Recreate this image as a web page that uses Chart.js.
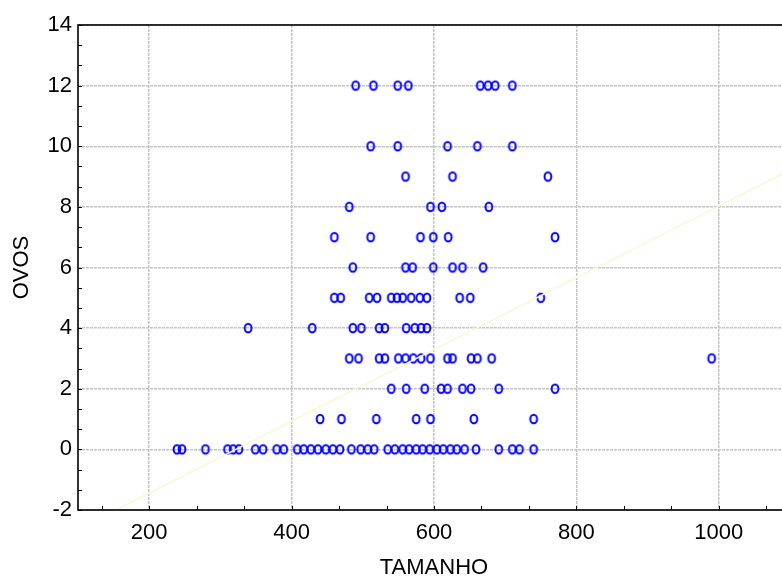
<!DOCTYPE html>
<html><head><meta charset="utf-8">
<script src="https://cdn.jsdelivr.net/npm/chart.js@4/dist/chart.umd.min.js"></script>
<style>html,body{margin:0;padding:0;overflow:hidden;background:#fff}canvas{display:block}</style>
</head><body>
<canvas id="c" width="800" height="581"></canvas>
<script>
// TAMANHO values for each OVOS count
const tamanhoOvos0  = [239, 246, 279, 310, 318, 326, 349, 360, 379, 389, 408, 417, 427, 437, 448, 458, 468, 484, 497, 507, 516, 535, 545, 556, 565, 575, 584, 594, 604, 613, 623, 632, 643, 659, 691, 710, 720, 740];
const tamanhoOvos1  = [440, 470, 519, 575, 595, 656, 740];
const tamanhoOvos2  = [540, 561, 587, 610, 619, 640, 652, 691, 770];
const tamanhoOvos3  = [481, 494, 523, 531, 550, 560, 571, 582, 595, 619, 626, 652, 661, 681, 990];
const tamanhoOvos4  = [339, 429, 486, 498, 523, 531, 561, 573, 582, 590];
const tamanhoOvos5  = [460, 469, 509, 520, 540, 548, 556, 568, 580, 590, 636, 651, 750];
const tamanhoOvos6  = [486, 560, 570, 599, 626, 640, 669];
const tamanhoOvos7  = [460, 511, 581, 599, 620, 770];
const tamanhoOvos8  = [481, 595, 611, 677];
const tamanhoOvos9  = [560, 626, 760];
const tamanhoOvos10 = [511, 549, 619, 661, 710];
const tamanhoOvos12 = [490, 515, 549, 564, 665, 676, 686, 710];

const ovosLevels = [0, 1, 2, 3, 4, 5, 6, 7, 8, 9, 10, 12];
const tamanhoRows = [tamanhoOvos0, tamanhoOvos1, tamanhoOvos2, tamanhoOvos3, tamanhoOvos4, tamanhoOvos5,
                     tamanhoOvos6, tamanhoOvos7, tamanhoOvos8, tamanhoOvos9, tamanhoOvos10, tamanhoOvos12];

// fitted line
const fitIntercept = -3.81;
const fitSlope = 0.01184;

const xTicks = [200, 400, 600, 800, 1000];
const yTicks = [-2, 0, 2, 4, 6, 8, 10, 12, 14];
const xRange = [100, 1100];
const yRange = [-2, 14];

const points = [];
ovosLevels.forEach((o, i) => tamanhoRows[i].forEach(t => points.push({x: t, y: o})));

const fitLine = xRange.map(x => ({x: x, y: fitIntercept + fitSlope * x}));

// ellipse marker
function makeMarker() {
  const c = document.createElement('canvas');
  c.width = 12; c.height = 14;
  const g = c.getContext('2d');
  g.strokeStyle = '#0000ff';
  g.lineWidth = 2;
  g.beginPath();
  g.ellipse(6, 7, 3.4, 4.3, 0, 0, Math.PI * 2);
  g.stroke();
  return c;
}
const marker = makeMarker();

const framePlugin = {
  id: 'frame',
  afterDraw(chart) {
    const {ctx, chartArea: a, scales: {x, y}} = chart;
    ctx.save();
    ctx.strokeStyle = '#000';
    ctx.lineWidth = 1;
    const xs = (xTicks[1] - xTicks[0]) / 3;
    let v = xTicks[0];
    while (v - xs >= x.min - 1e-6) v -= xs;
    ctx.beginPath();
    for (; v <= x.max + 1e-6; v += xs) {
      const p = Math.round(x.getPixelForValue(v)) + 0.5;
      ctx.moveTo(p, a.bottom); ctx.lineTo(p, a.bottom - 4);
    }
    const ys = (yTicks[1] - yTicks[0]) / 3;
    v = yTicks[0];
    while (v - ys >= y.min - 1e-6) v -= ys;
    for (; v <= y.max + 1e-6; v += ys) {
      const p = Math.round(y.getPixelForValue(v)) + 0.5;
      ctx.moveTo(a.left, p); ctx.lineTo(a.left + 4, p);
    }
    ctx.stroke();
    ctx.lineWidth = 1.6;
    ctx.strokeRect(a.left, a.top, a.right - a.left, a.bottom - a.top);
    ctx.restore();
  }
};

const font = {family: "'Liberation Sans', Arial, sans-serif", size: 22};

new Chart(document.getElementById('c'), {
  type: 'scatter',
  data: {
    datasets: [
      {
        type: 'line',
        label: 'fit',
        data: fitLine,
        borderColor: 'rgb(252,246,214)',
        borderWidth: 1.5,
        pointRadius: 0,
        fill: false,
        order: 0
      },
      {
        label: 'OVOS',
        data: points,
        pointStyle: marker,
        pointRadius: 5,
        order: 1
      }
    ]
  },
  options: {
    responsive: false,
    animation: false,
    events: [],
    layout: {padding: {left: 0, top: 25, right: 10, bottom: 0}},
    plugins: {legend: {display: false}, tooltip: {enabled: false}},
    scales: {
      x: {
        type: 'linear',
        min: xRange[0], max: xRange[1],
        afterBuildTicks(s) { s.ticks = xTicks.map(v => ({value: v})); },
        afterFit(s) { s.height = 71; },
        grid: {color: '#c4c4c4', lineWidth: 1.5, drawTicks: false},
        border: {display: false, dash: [3, 1]},
        ticks: {color: '#000', font: font, padding: 10, maxRotation: 0, callback: v => String(v)},
        title: {display: true, text: 'TAMANHO', color: '#000', font: font, padding: {top: 0, bottom: 0}}
      },
      y: {
        type: 'linear',
        min: yRange[0], max: yRange[1],
        afterBuildTicks(s) { s.ticks = yTicks.map(v => ({value: v})); },
        afterFit(s) { s.width = 78; },
        grid: {color: '#c4c4c4', lineWidth: 1.5, drawTicks: false},
        border: {display: false, dash: [3, 1]},
        ticks: {color: '#000', font: font, padding: 6, callback: v => String(v)},
        title: {display: true, text: 'OVOS', color: '#000', font: font, padding: {top: 9, bottom: 0}}
      }
    }
  },
  plugins: [framePlugin]
});
</script>
</body></html>
